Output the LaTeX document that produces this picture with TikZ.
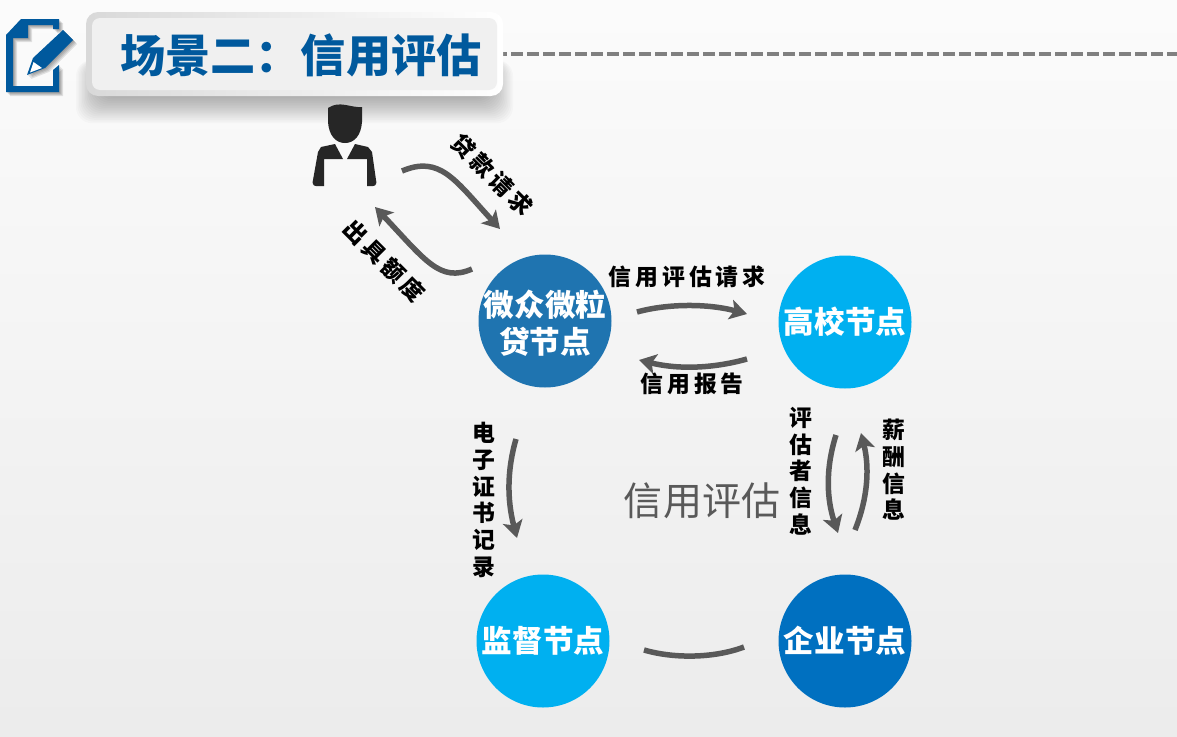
\documentclass[tikz,border=0pt]{standalone}
\usepackage{fontspec}
\usepackage{tikz}
\usetikzlibrary{arrows.meta}
\newfontfamily\cjk{Noto Sans CJK SC}
\newfontfamily\cjkwide[LetterSpace=18]{Noto Sans CJK SC}

\definecolor{titleblue}{HTML}{00599D}
\definecolor{linegray}{HTML}{595959}
\definecolor{darknode}{HTML}{1F74B0}
\definecolor{lightnode}{HTML}{00B0F0}
\definecolor{firmnode}{HTML}{0070C0}

\newcommand{\iconshape}{
  (6,35) -- (21,19) -- (59,19) -- (59,29) -- (53,29) -- (53,25) -- (28,25) -- (28,38) -- (13,38)
  -- (13,86) -- (53,86) -- (53,70) -- (59,65) -- (59,92) -- (6,92) -- cycle
  (33,58) -- (63,30) -- (73,40) -- (45,68) -- (27,75) -- cycle}

\tikzset{
  circlenode/.style={circle, minimum size=133*0.02cm, inner sep=0pt},
  nodetext/.style={inner sep=0pt, text=white, align=center,
    font=\cjk\bfseries\fontsize{17.4}{21}\selectfont},
  msglabel/.style={inner sep=0pt, text=black, align=center,
    font=\cjkwide\bfseries\fontsize{13}{15.2}\selectfont},
  flowline/.style={line width=5.5*0.02cm, draw=linegray, -{Stealth[length=17*0.02cm, width=20*0.02cm, inset=4*0.02cm]}},
}

\begin{document}
\begin{tikzpicture}[x=0.02cm, y=-0.02cm]
\useasboundingbox (0,0) rectangle (1177,737);
\shade[top color=black!1.5, middle color=black!3.5, bottom color=black!7.5] (0,0) rectangle (1177,737);

%%%%%%%%%%%%%%%%%%%%%%%%%%%%
% title bar
\draw[line width=4.2*0.02cm, draw=black!50, dash pattern=on 12*0.02cm off 4*0.02cm, dash phase=8*0.02cm] (503,54) -- (1177,54);
\foreach \i in {1,...,16}
  \fill[black, opacity=0.02, rounded corners=16*0.02cm]
    (100-\i*1.5,60) rectangle (489+\i*1.5,96+\i*1.7);
\shade[left color=black!15, right color=white, rounded corners=12*0.02cm] (86,12) rectangle (503,96);
\fill[black!6, rounded corners=8*0.02cm] (92,18) rectangle (497,90);
\node[inner sep=0pt, text=titleblue, font=\cjk\bfseries\fontsize{25.7}{30}\selectfont] (title) at (301,55) {场景二：信用评估};

%%%%%%%%%%%%%%%%%%%%%%%%%%%%
% note icon
\foreach \i in {1,...,4}
  \fill[black, opacity=0.1, shift={(\i,\i)}] \iconshape;
\fill[titleblue] \iconshape;
\fill[white] (33.5,62) -- (30,72.5) -- (42,68) -- cycle;

%%%%%%%%%%%%%%%%%%%%%%%%%%%%
% person
\fill[black!85] (328,108) .. controls (340,100) and (350,108) .. (362,107)
  -- (362,122) .. controls (361,136) and (354,143) .. (345,143)
  .. controls (336,143) and (329,136) .. (328,122) -- cycle;
\fill[black!85] (321,147) -- (335,144) -- (343,159) -- (324,159) -- (324,186)
  -- (316,186) .. controls (313,186) and (312,183) .. (313,180) -- (318,152) -- cycle;
\fill[black!85] (347,159) -- (355,144) -- (368,147) -- (372,152) -- (376,180)
  .. controls (377,183) and (376,186) .. (373,186) -- (367,186) -- (367,159) -- cycle;

%%%%%%%%%%%%%%%%%%%%%%%%%%%%
\node[circlenode, fill=darknode] (weizhong) at (545,321) {};
\node[nodetext] (weizhongtext) at (545,323) {微众微粒\\贷节点};
\node[circlenode, fill=lightnode, nodetext] (gaoxiao) at (845,322) {高校节点};
\node[circlenode, fill=lightnode, nodetext] (jiandu) at (543,641) {监督节点};
\node[circlenode, fill=firmnode, nodetext] (qiye) at (845,641) {企业节点};

%%%%%%%%%%%%%%%%%%%%%%%%%%%%
\coordinate (loanA) at (402,171);
\coordinate (loanB) at (500,229);
\coordinate (quotaA) at (472,269);
\coordinate (quotaB) at (375,207);
\coordinate (askA) at (637,312);
\coordinate (askB) at (747,314);
\coordinate (reportA) at (747,359);
\coordinate (reportB) at (639,360);
\coordinate (certA) at (516,439);
\coordinate (certB) at (517,538);
\coordinate (infoA) at (836,435);
\coordinate (infoB) at (838,533);
\coordinate (payA) at (855,530);
\coordinate (payB) at (861,433);
\coordinate (linkA) at (644,650);
\coordinate (linkB) at (744,647);

\draw[flowline] (loanA) .. controls (440,155) and (455,180) .. (loanB);
\draw[flowline] (quotaA) .. controls (440,283) and (425,260) .. (quotaB);
\draw[flowline] (askA) .. controls (670,303) and (710,304) .. (askB);
\draw[flowline] (reportA) .. controls (715,368) and (680,370) .. (reportB);
\draw[flowline] (certA) .. controls (507,470) and (507,500) .. (certB);
\draw[flowline] (infoA) .. controls (825,470) and (827,500) .. (infoB);
\draw[flowline] (payA) .. controls (869,495) and (869,465) .. (payB);
\draw[line width=5.5*0.02cm, draw=linegray] (linkA) .. controls (675,659) and (715,658) .. (linkB);

%%%%%%%%%%%%%%%%%%%%%%%%%%%%
\node[msglabel, rotate=-45] (loanlabel) at (492,175) {贷款请求};
\node[msglabel, rotate=-45] (quotalabel) at (384,261) {出具额度};
\node[msglabel] (asklabel) at (687,277) {信用评估请求};
\node[msglabel] (reportlabel) at (692,384) {信用报告};
\node[msglabel] (certlabel) at (484,500) {电\\子\\证\\书\\记\\录};
\node[msglabel] (infolabel) at (801,471) {评\\估\\者\\信\\息};
\node[msglabel] (paylabel) at (894,470) {薪\\酬\\信\\息};
\node[inner sep=0pt, text=linegray, font=\cjk\fontsize{22.2}{26}\selectfont] (centerlabel) at (702,501) {信用评估};
\end{tikzpicture}
\end{document}
